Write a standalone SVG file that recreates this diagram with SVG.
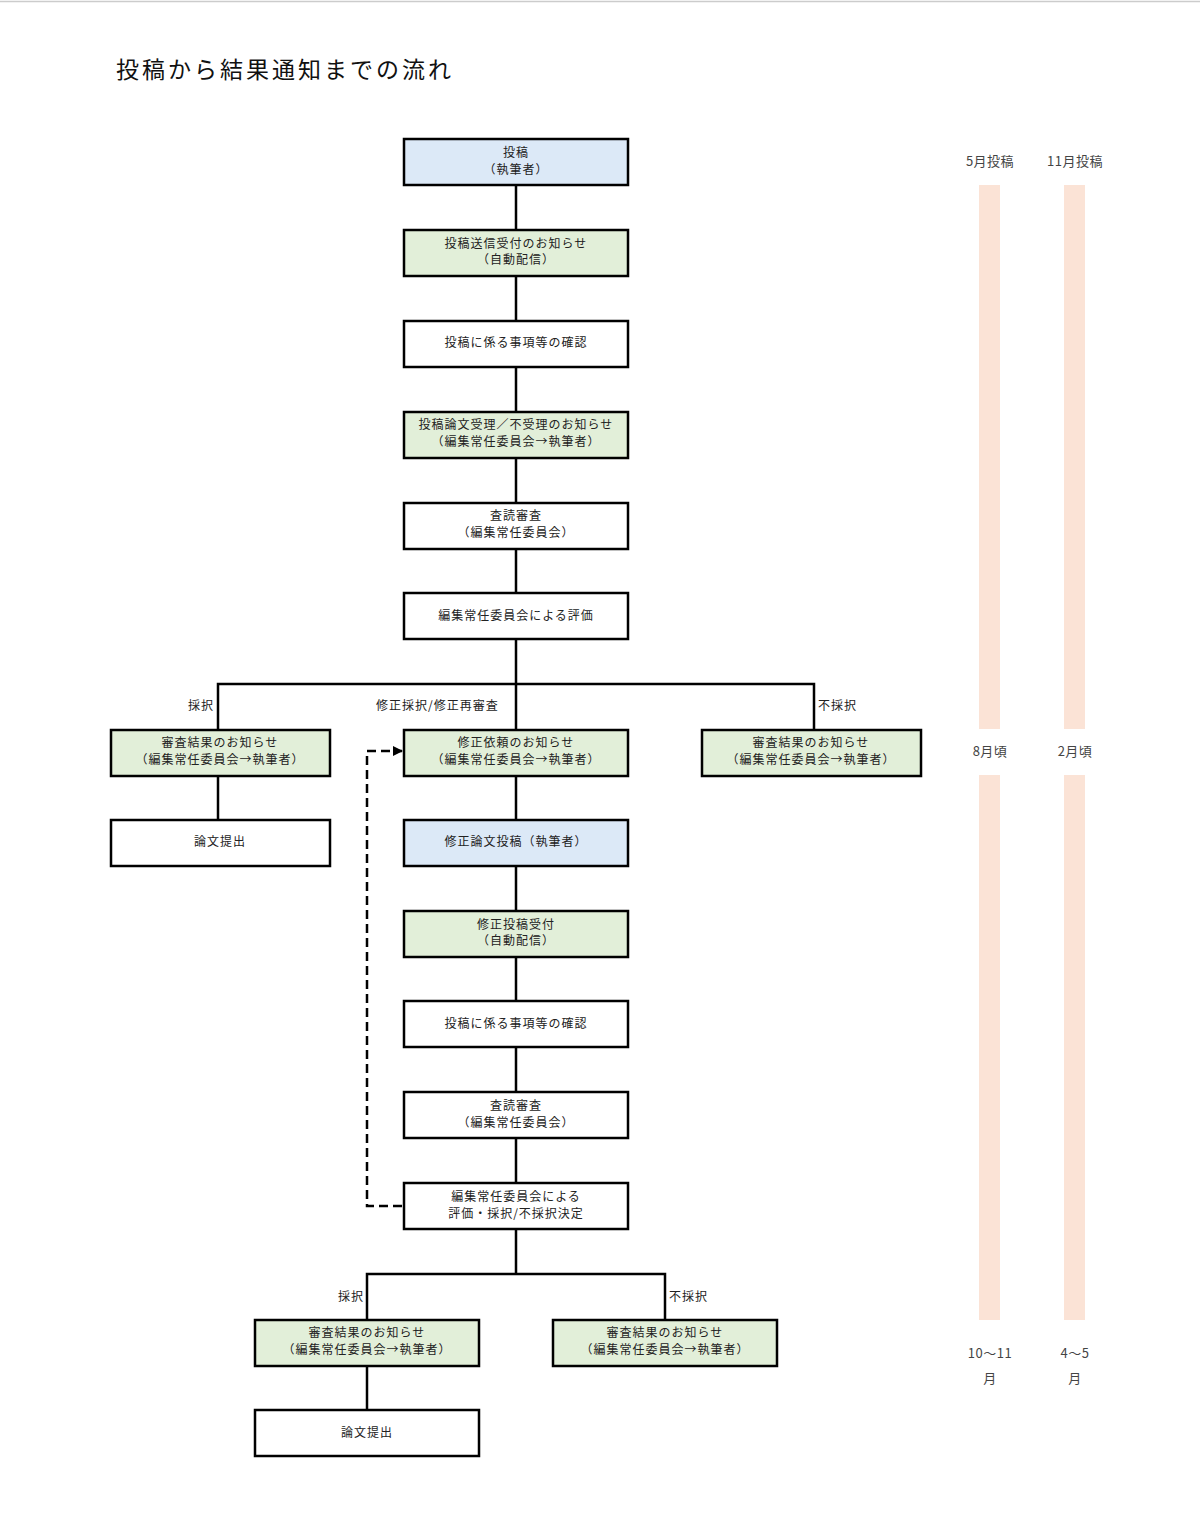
<svg xmlns="http://www.w3.org/2000/svg" width="1200" height="1538" viewBox="0 0 1200 1538">
<style>
.n{stroke:#000;stroke-width:2.5}
.w{fill:#fff}.b{fill:#dce9f7}.g{fill:#e2efd9}
.t{font-family:"Noto Sans CJK JP","Noto Sans",sans-serif;font-size:12px;letter-spacing:1px;fill:#222;text-anchor:middle}
.l{font-family:"Noto Sans CJK JP","Noto Sans",sans-serif;font-size:12px;letter-spacing:1px;fill:#222}
.s{font-family:"Noto Sans CJK JP","Noto Sans",sans-serif;font-size:13px;letter-spacing:0.5px;fill:#444;text-anchor:middle}
.c{fill:none;stroke:#000;stroke-width:2.5}
.bar{fill:#fbe3d6}
</style>
<defs>
<marker id="ah" markerWidth="10" markerHeight="10" refX="9" refY="5" orient="auto" markerUnits="userSpaceOnUse"><path d="M0,0 L10,5 L0,10 Z" fill="#000"/></marker>
</defs>
<rect width="1200" height="1538" fill="#fff"/>
<line x1="0" y1="1.5" x2="1200" y2="1.5" stroke="#ccc" stroke-width="1.5"/>
<text x="116" y="78" font-family="'Noto Sans CJK JP',sans-serif" font-size="23" letter-spacing="3" fill="#111">投稿から結果通知までの流れ</text>

<g id="connectors">
<path class="c" d="M516,185V230M516,276V321M516,367V412M516,458V503M516,549V593M516,639V730"/>
<path class="c" d="M218,730V684H814V730"/>
<path class="c" d="M218,776V820"/>
<path class="c" d="M516,776V820M516,866V911M516,957V1001M516,1047V1092M516,1138V1183M516,1229V1274"/>
<path class="c" d="M367,1320V1274H665V1320"/>
<path class="c" d="M367,1366V1410"/>
<path d="M402,1206H367V751H402" fill="none" stroke="#000" stroke-width="2.5" stroke-dasharray="9,5" marker-end="url(#ah)"/>
</g>

<g id="labels">
<text class="l" x="214" y="710" text-anchor="end">採択</text>
<text class="l" x="376" y="710">修正採択/修正再審査</text>
<text class="l" x="818" y="710">不採択</text>
<text class="l" x="364" y="1301" text-anchor="end">採択</text>
<text class="l" x="669" y="1301">不採択</text>
</g>

<g id="n1"><rect class="n b" x="404" y="139" width="224" height="46"/><text class="t" x="516" y="157">投稿</text><text class="t" x="516" y="174">（執筆者）</text></g>
<g id="n2"><rect class="n g" x="404" y="230" width="224" height="46"/><text class="t" x="516" y="248">投稿送信受付のお知らせ</text><text class="t" x="516" y="264">（自動配信）</text></g>
<g id="n3"><rect class="n w" x="404" y="321" width="224" height="46"/><text class="t" x="516" y="347">投稿に係る事項等の確認</text></g>
<g id="n4"><rect class="n g" x="404" y="412" width="224" height="46"/><text class="t" x="516" y="429">投稿論文受理／不受理のお知らせ</text><text class="t" x="516" y="446">（編集常任委員会→執筆者）</text></g>
<g id="n5"><rect class="n w" x="404" y="503" width="224" height="46"/><text class="t" x="516" y="520">査読審査</text><text class="t" x="516" y="537">（編集常任委員会）</text></g>
<g id="n6"><rect class="n w" x="404" y="593" width="224" height="46"/><text class="t" x="516" y="620">編集常任委員会による評価</text></g>
<g id="n7"><rect class="n g" x="111" y="730" width="219" height="46"/><text class="t" x="220" y="747">審査結果のお知らせ</text><text class="t" x="220" y="764">（編集常任委員会→執筆者）</text></g>
<g id="n8"><rect class="n g" x="404" y="730" width="224" height="46"/><text class="t" x="516" y="747">修正依頼のお知らせ</text><text class="t" x="516" y="764">（編集常任委員会→執筆者）</text></g>
<g id="n9"><rect class="n g" x="702" y="730" width="219" height="46"/><text class="t" x="811" y="747">審査結果のお知らせ</text><text class="t" x="811" y="764">（編集常任委員会→執筆者）</text></g>
<g id="n10"><rect class="n w" x="111" y="820" width="219" height="46"/><text class="t" x="220" y="846">論文提出</text></g>
<g id="n11"><rect class="n b" x="404" y="820" width="224" height="46"/><text class="t" x="516" y="846">修正論文投稿（執筆者）</text></g>
<g id="n12"><rect class="n g" x="404" y="911" width="224" height="46"/><text class="t" x="516" y="929">修正投稿受付</text><text class="t" x="516" y="945">（自動配信）</text></g>
<g id="n13"><rect class="n w" x="404" y="1001" width="224" height="46"/><text class="t" x="516" y="1028">投稿に係る事項等の確認</text></g>
<g id="n14"><rect class="n w" x="404" y="1092" width="224" height="46"/><text class="t" x="516" y="1110">査読審査</text><text class="t" x="516" y="1127">（編集常任委員会）</text></g>
<g id="n15"><rect class="n w" x="404" y="1183" width="224" height="46"/><text class="t" x="516" y="1201">編集常任委員会による</text><text class="t" x="516" y="1218">評価・採択/不採択決定</text></g>
<g id="n16"><rect class="n g" x="255" y="1320" width="224" height="46"/><text class="t" x="367" y="1337">審査結果のお知らせ</text><text class="t" x="367" y="1354">（編集常任委員会→執筆者）</text></g>
<g id="n17"><rect class="n g" x="553" y="1320" width="224" height="46"/><text class="t" x="665" y="1337">審査結果のお知らせ</text><text class="t" x="665" y="1354">（編集常任委員会→執筆者）</text></g>
<g id="n18"><rect class="n w" x="255" y="1410" width="224" height="46"/><text class="t" x="367" y="1437">論文提出</text></g>

<g id="timeline">
<rect class="bar" x="979" y="185" width="21" height="544"/>
<rect class="bar" x="979" y="775" width="21" height="545"/>
<rect class="bar" x="1064" y="185" width="21" height="544"/>
<rect class="bar" x="1064" y="775" width="21" height="545"/>
<text class="s" x="990" y="166">5月投稿</text>
<text class="s" x="1075" y="166">11月投稿</text>
<text class="s" x="990" y="756">8月頃</text>
<text class="s" x="1075" y="756">2月頃</text>
<text class="s" x="990" y="1358">10～11</text>
<text class="s" x="990" y="1383">月</text>
<text class="s" x="1075" y="1358">4～5</text>
<text class="s" x="1075" y="1383">月</text>
</g>
</svg>
